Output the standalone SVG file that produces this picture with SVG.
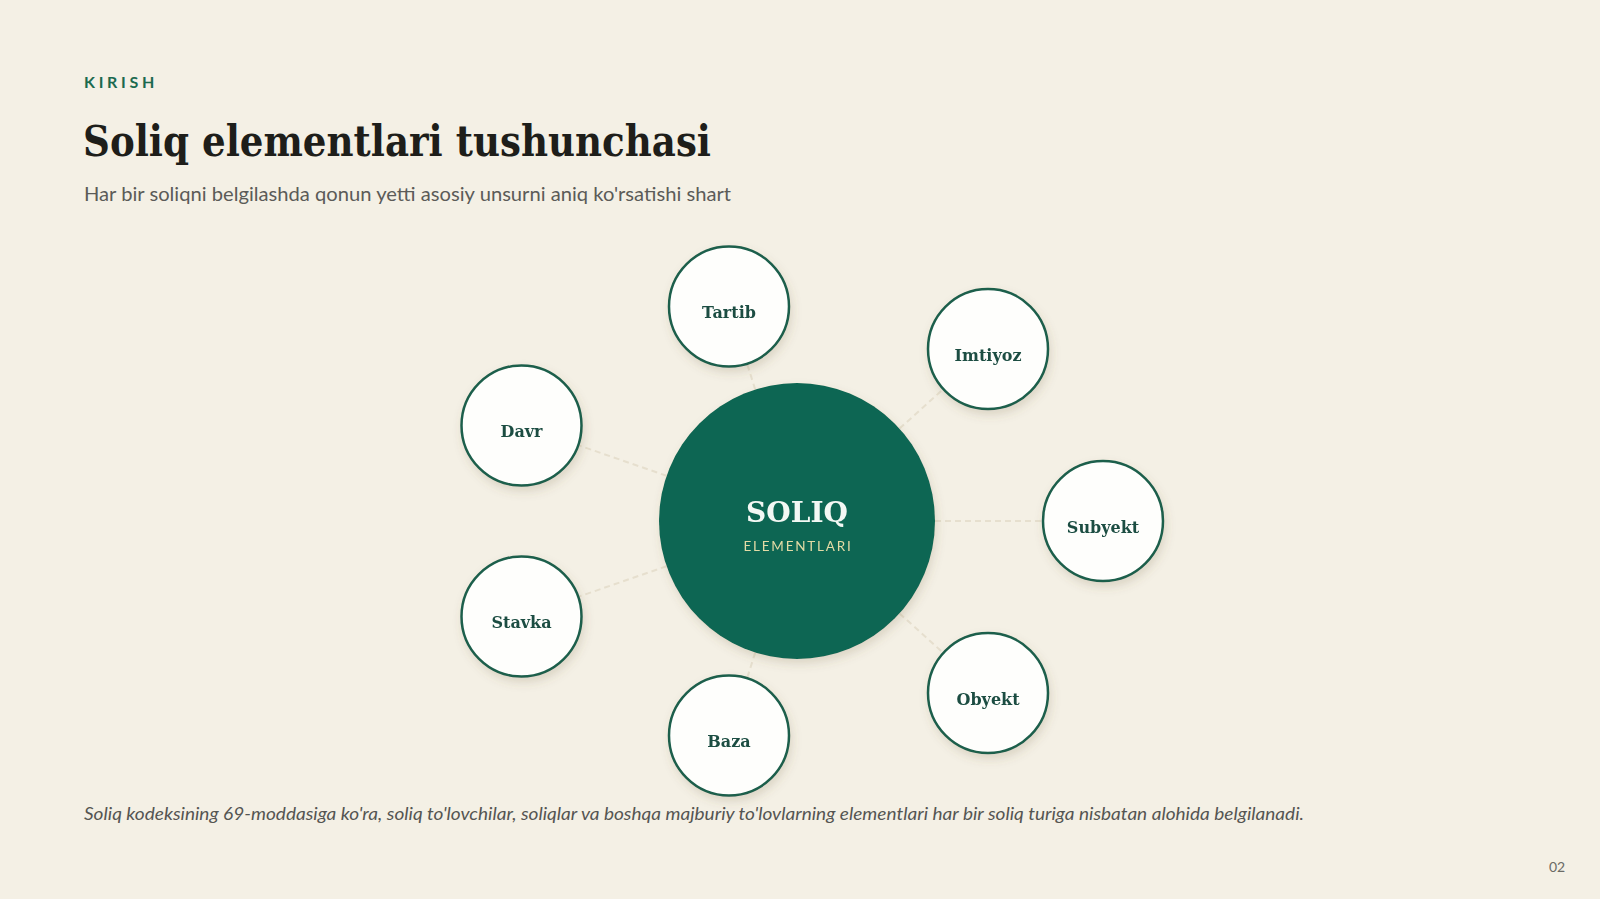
<svg xmlns="http://www.w3.org/2000/svg" width="1600" height="899" viewBox="0 0 1600 899">
<defs>
<style>
.kicker{font-family:Lato,"Liberation Sans",sans-serif;font-weight:700;font-size:16px;letter-spacing:3.7px;fill:#1b6a4f}
.title{font-family:"DejaVu Serif","Liberation Serif",serif;font-weight:700;font-size:42px;fill:#1e1e1a}
.sub{font-family:Lato,"Liberation Sans",sans-serif;font-size:19px;fill:#5b5b58}
.foot{font-family:Lato,"Liberation Sans",sans-serif;font-style:italic;font-size:17px;fill:#555552}
.page{font-family:Lato,"Liberation Sans",sans-serif;font-size:14px;fill:#6b6b66}
.sat circle{fill:#fefefc;stroke:#1c5e4b;stroke-width:2.5}
.sat text{font-family:"DejaVu Serif","Liberation Serif",serif;font-weight:700;font-size:16px;fill:#1c4d42;text-anchor:middle}
.conn line{stroke:#e6dfce;stroke-width:2;stroke-dasharray:6 4}
.hub-t{font-family:"DejaVu Serif","Liberation Serif",serif;font-weight:700;font-size:28px;fill:#f3f8f4;text-anchor:middle}
.hub-s{font-family:Lato,"Liberation Sans",sans-serif;font-size:13.5px;letter-spacing:1.8px;fill:#e3dba6;text-anchor:middle}
</style>
<filter id="sh" x="-30%" y="-30%" width="160%" height="160%">
<feDropShadow dx="2" dy="5" stdDeviation="5" flood-color="#6b5e3c" flood-opacity="0.18"/>
</filter>
</defs>
<rect width="1600" height="899" fill="#f4f0e5"/>
<text class="kicker" x="84" y="88">KIRISH</text>
<text class="title" x="83" y="156" textLength="628" lengthAdjust="spacingAndGlyphs">Soliq elementlari tushunchasi</text>
<text class="sub" x="84" y="201" textLength="647" lengthAdjust="spacingAndGlyphs">Har bir soliqni belgilashda qonun yetti asosiy unsurni aniq ko'rsatishi shart</text>
<g id="connectors" class="conn">
<line x1="935" y1="521" x2="1043" y2="521"/>
<line x1="899.5" y1="613.4" x2="943.2" y2="652.8"/>
<line x1="755.2" y1="652.6" x2="747.1" y2="678.3"/>
<line x1="666.6" y1="566.2" x2="578" y2="596.9"/>
<line x1="666.6" y1="475.8" x2="578" y2="445.1"/>
<line x1="755.2" y1="389.4" x2="747.1" y2="363.7"/>
<line x1="899.5" y1="428.6" x2="943.2" y2="389.2"/>
</g>
<g id="hub" filter="url(#sh)">
<circle cx="797" cy="521" r="138" fill="#0f6652"/>
<text class="hub-t" x="797" y="522">SOLIQ</text>
<text class="hub-s" x="798" y="551">ELEMENTLARI</text>
</g>
<g id="subyekt" class="sat" filter="url(#sh)"><circle cx="1103" cy="521" r="60"/><text x="1103" y="533">Subyekt</text></g>
<g id="obyekt" class="sat" filter="url(#sh)"><circle cx="988" cy="693" r="60"/><text x="988" y="705">Obyekt</text></g>
<g id="baza" class="sat" filter="url(#sh)"><circle cx="729" cy="735.5" r="60"/><text x="729" y="747">Baza</text></g>
<g id="stavka" class="sat" filter="url(#sh)"><circle cx="521.5" cy="616.5" r="60"/><text x="521.5" y="628">Stavka</text></g>
<g id="davr" class="sat" filter="url(#sh)"><circle cx="521.5" cy="425.5" r="60"/><text x="521.5" y="437">Davr</text></g>
<g id="tartib" class="sat" filter="url(#sh)"><circle cx="729" cy="306.5" r="60"/><text x="729" y="318">Tartib</text></g>
<g id="imtiyoz" class="sat" filter="url(#sh)"><circle cx="988" cy="349" r="60"/><text x="988" y="361">Imtiyoz</text></g>
<text class="foot" x="84" y="820" textLength="1220" lengthAdjust="spacingAndGlyphs">Soliq kodeksining 69-moddasiga ko'ra, soliq to'lovchilar, soliqlar va boshqa majburiy to'lovlarning elementlari har bir soliq turiga nisbatan alohida belgilanadi.</text>
<text class="page" x="1557" y="872" text-anchor="middle">02</text>
</svg>
